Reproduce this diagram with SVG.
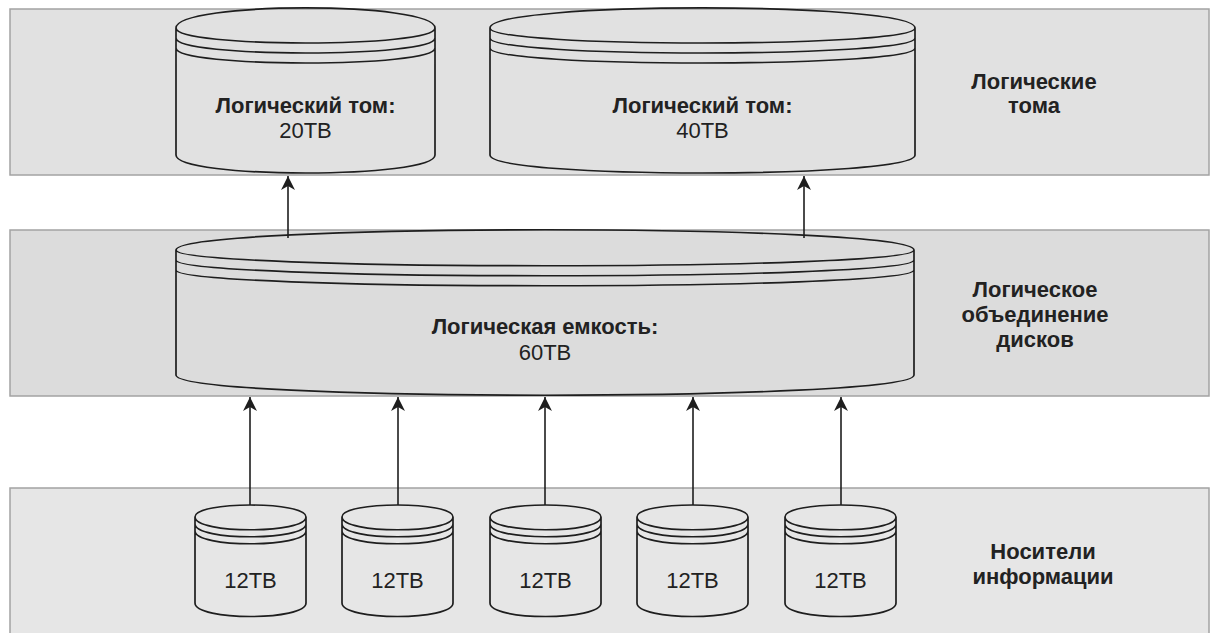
<svg xmlns="http://www.w3.org/2000/svg" width="1211" height="633" viewBox="0 0 1211 633">
<defs>
<style>
.band{stroke:#a3a3a3;stroke-width:1.5}
.cyl{fill:none;stroke:#1e1e1e;stroke-width:1.7}
.t{font-family:"Liberation Sans",Arial,sans-serif;font-size:22px;fill:#222222;text-anchor:middle}
.b{font-weight:bold}
.conn{stroke:#1e1e1e;stroke-width:1.6;fill:none;marker-end:url(#arr)}
</style>
<marker id="arr" markerUnits="userSpaceOnUse" viewBox="0 0 14 14" markerWidth="14" markerHeight="14" refX="14" refY="7" orient="auto">
<path d="M0,0 L14,7 L0,14 L4,7 z" fill="#1e1e1e"/>
</marker>
</defs>
<rect width="1211" height="633" fill="#ffffff"/>
<g id="band-volumes">
<rect class="band" x="10" y="9" width="1199" height="166" fill="#e1e1e1"/>
<text class="t b" x="1034" y="89">Логические<tspan x="1034" dy="24">тома</tspan></text>
</g>
<g id="band-pool">
<rect class="band" x="10" y="230" width="1199" height="166" fill="#dcdcdc"/>
<text class="t b" x="1035" y="297">Логическое<tspan x="1035" dy="25">объединение</tspan><tspan x="1035" dy="25">дисков</tspan></text>
</g>
<g id="band-media">
<rect class="band" x="10" y="488" width="1199" height="160" fill="#e6e6e6"/>
<text class="t b" x="1043" y="559">Носители<tspan x="1043" dy="25">информации</tspan></text>
</g>
<g id="vol20">
<path class="cyl" d="M176,28 C176,1.3 435,1.3 435,28 L435,155 C435,179 176,179 176,155 Z M176,28 C176,48 435,48 435,28 M176,38 C176,58 435,58 435,38 M176,48 C176,68 435,68 435,48"/>
<text class="t" x="305.5" y="113"><tspan class="b">Логический том:</tspan><tspan x="305.5" dy="25">20TB</tspan></text>
</g>
<g id="vol40">
<path class="cyl" d="M490,28 C490,1.3 915,1.3 915,28 L915,155 C915,179 490,179 490,155 Z M490,28 C490,48 915,48 915,28 M490,38 C490,58 915,58 915,38 M490,48 C490,68 915,68 915,48"/>
<text class="t" x="702.5" y="113"><tspan class="b">Логический том:</tspan><tspan x="702.5" dy="25">40TB</tspan></text>
</g>
<g id="pool60">
<path class="cyl" d="M176,250 C176,223 914,223 914,250 L914,375 C914,402 176,402 176,375 Z M176,250 C176,271 914,271 914,250 M176,260 C176,281 914,281 914,260 M176,270 C176,291 914,291 914,270"/>
<text class="t" x="545" y="334"><tspan class="b">Логическая емкость:</tspan><tspan x="545" dy="26">60TB</tspan></text>
</g>
<g id="disk1">
<path class="cyl" d="M195,517 C195,501 306,501 306,517 L306,603 C306,621 195,621 195,603 Z M195,517 C195,534 306,534 306,517 M195,524 C195,541 306,541 306,524 M195,531 C195,548 306,548 306,531"/>
<text class="t" x="250.5" y="588">12TB</text>
</g>
<g id="disk2">
<path class="cyl" d="M342,517 C342,501 453,501 453,517 L453,603 C453,621 342,621 342,603 Z M342,517 C342,534 453,534 453,517 M342,524 C342,541 453,541 453,524 M342,531 C342,548 453,548 453,531"/>
<text class="t" x="397.5" y="588">12TB</text>
</g>
<g id="disk3">
<path class="cyl" d="M490,517 C490,501 601,501 601,517 L601,603 C601,621 490,621 490,603 Z M490,517 C490,534 601,534 601,517 M490,524 C490,541 601,541 601,524 M490,531 C490,548 601,548 601,531"/>
<text class="t" x="545.5" y="588">12TB</text>
</g>
<g id="disk4">
<path class="cyl" d="M637,517 C637,501 748,501 748,517 L748,603 C748,621 637,621 637,603 Z M637,517 C637,534 748,534 748,517 M637,524 C637,541 748,541 748,524 M637,531 C637,548 748,548 748,531"/>
<text class="t" x="692.5" y="588">12TB</text>
</g>
<g id="disk5">
<path class="cyl" d="M785,517 C785,501 896,501 896,517 L896,603 C896,621 785,621 785,603 Z M785,517 C785,534 896,534 896,517 M785,524 C785,541 896,541 896,524 M785,531 C785,548 896,548 896,531"/>
<text class="t" x="840.5" y="588">12TB</text>
</g>
<g id="connectors">
<path class="conn" d="M288,238 L288,176"/>
<path class="conn" d="M804,238 L804,176"/>
<path class="conn" d="M250,505 L250,397"/>
<path class="conn" d="M398,505 L398,397"/>
<path class="conn" d="M545,505 L545,397"/>
<path class="conn" d="M693,505 L693,397"/>
<path class="conn" d="M841,505 L841,397"/>
</g>
</svg>
